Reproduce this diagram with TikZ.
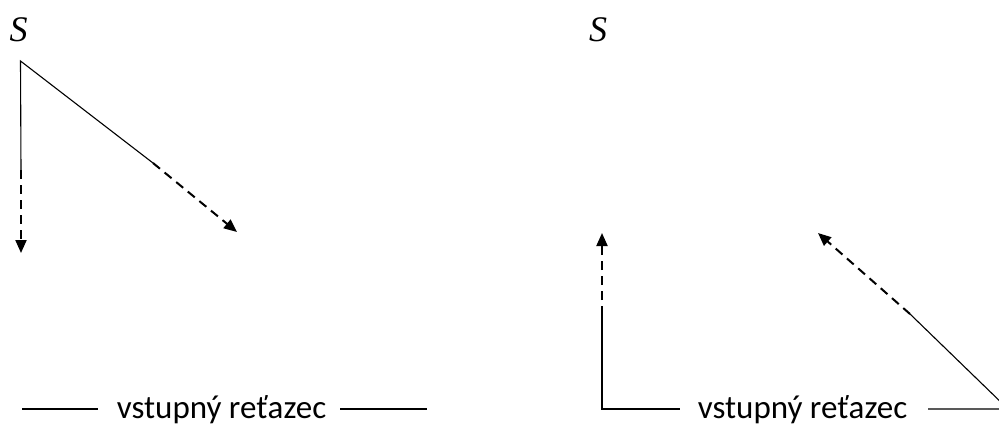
\documentclass[tikz,border=0pt]{standalone}
\usepackage{fontspec}
\setmainfont{Carlito}
\newfontfamily\symfont{Liberation Serif}
\usetikzlibrary{arrows.meta}
\begin{document}
\begin{tikzpicture}[x=1pt,y=-1pt,
  solidline/.style={line width=1.1pt,black},
  dashline/.style={line width=2pt,black,dash pattern=on 9pt off 6pt,-{Triangle[length=13pt,width=11pt]}},
  lbl/.style={font=\fontsize{33}{36}\selectfont,inner sep=0pt,anchor=base},
  sym/.style={font=\symfont\itshape\fontsize{36}{40}\selectfont,inner sep=0pt}]
\useasboundingbox (0,0) rectangle (999,426);
% left diagram
\node[sym] (S1) at (18.5,30) {S};
\coordinate (A1) at (20.5,61);
\coordinate (V1m) at (21,170);
\coordinate (V1t) at (21,253);
\coordinate (D1m) at (153,163);
\coordinate (D1t) at (237,232);
\draw[solidline] (V1m) -- (A1) -- (D1m);
\draw[dashline] (V1m) -- (V1t);
\draw[dashline] (D1m) -- (D1t);
\node[lbl] (T1) at (221.5,418) {vstupný reťazec};
\coordinate (L1a) at (22,409);
\coordinate (L1b) at (98,409);
\coordinate (L1c) at (340,409);
\coordinate (L1d) at (427,409);
\draw[solidline] (L1a) -- (L1b);
\draw[solidline] (L1c) -- (L1d);
% right diagram
\node[sym] (S2) at (598,30) {S};
\coordinate (B2) at (602,409);
\coordinate (V2m) at (602,315);
\coordinate (V2t) at (602,233);
\node[lbl] (T2) at (802.5,418) {vstupný reťazec};
\coordinate (L2b) at (680,409);
\coordinate (L2c) at (928,409);
\coordinate (C2) at (1008,409);
\coordinate (D2m) at (910,314);
\coordinate (D2t) at (818,233);
\draw[solidline] (V2m) -- (B2) -- (L2b);
\draw[dashline] (V2m) -- (V2t);
\draw[solidline] (L2c) -- (C2) -- (D2m);
\draw[dashline] (D2m) -- (D2t);
\end{tikzpicture}
\end{document}
